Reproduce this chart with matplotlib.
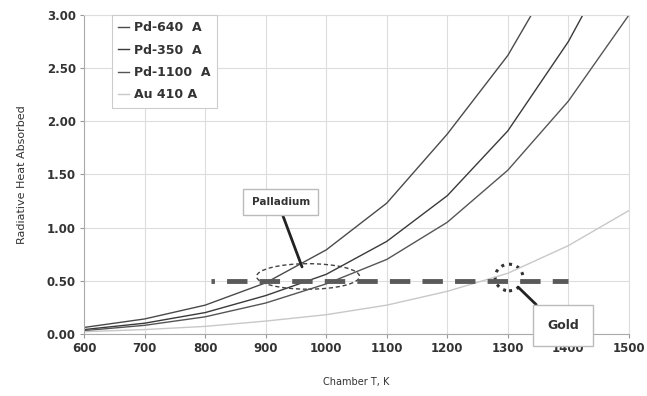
import matplotlib.pyplot as plt
from matplotlib.patches import Ellipse

# chamber temperature, K
temps = [600, 700, 800, 900, 1000, 1100, 1200, 1300, 1400, 1500]

# radiative heat absorbed
pd640 = [0.06, 0.14, 0.27, 0.48, 0.79, 1.23, 1.88, 2.62, 3.60, 4.80]
pd350 = [0.04, 0.10, 0.20, 0.36, 0.56, 0.87, 1.30, 1.91, 2.75, 3.80]
pd1100 = [0.03, 0.08, 0.16, 0.29, 0.47, 0.70, 1.05, 1.54, 2.19, 3.00]
au410 = [0.02, 0.04, 0.07, 0.12, 0.18, 0.27, 0.40, 0.57, 0.83, 1.16]
labels = ['Pd-640  A', 'Pd-350  A', 'Pd-1100  A', 'Au 410 A']

ref_x = [810, 1400]
ref_y = [0.5, 0.5]

plt.rcParams['font.family'] = 'DejaVu Sans'
plt.rcParams['font.weight'] = 'bold'

fig = plt.figure(figsize=(6.47, 3.96), dpi=100)
ax = fig.add_axes([0.130, 0.157, 0.842, 0.805])

ax.plot(temps, pd640, color='#4a4a4a', lw=1.0, label=labels[0])
ax.plot(temps, pd350, color='#3a3a3a', lw=1.0, label=labels[1])
ax.plot(temps, pd1100, color='#555555', lw=1.0, label=labels[2])
ax.plot(temps, au410, color='#c8c8c8', lw=1.0, label=labels[3])

ax.plot(ref_x, ref_y, color='#5a5a5a', lw=3.5,
        linestyle=(3.5, (4.2, 2.5)), solid_capstyle='butt')

# circles around the crossing regions
ax.add_patch(Ellipse((970, 0.54), 170, 0.24, fill=False, ec='#444444',
                     lw=1.0, ls=(0, (3, 2))))
ax.add_patch(Ellipse((1302, 0.53), 46, 0.25, fill=False, ec='#333333',
                     lw=2.2, ls=(0, (1, 1.6))))

ax.annotate('Palladium', xy=(960, 0.63), xytext=(925, 1.24),
            ha='center', va='center', fontsize=7.5, color='#333333',
            bbox=dict(boxstyle='square,pad=0.8', fc='white', ec='#bbbbbb', lw=1.0),
            arrowprops=dict(arrowstyle='-', color='#222222', lw=2.0,
                            relpos=(0.48, 0.0), shrinkA=0, shrinkB=0))
ax.annotate('Gold', xy=(1317, 0.44), xytext=(1391, 0.08),
            ha='center', va='center', fontsize=9, color='#333333',
            bbox=dict(boxstyle='square,pad=1.1', fc='white', ec='#bbbbbb', lw=1.0),
            arrowprops=dict(arrowstyle='-', color='#222222', lw=2.0,
                            relpos=(0.12, 1.0), shrinkA=0, shrinkB=0),
            annotation_clip=False)

ax.set_xlim(600, 1500)
ax.set_ylim(0, 3.0)
ax.set_xticks(range(600, 1501, 100))
ax.set_yticks([0, 0.5, 1.0, 1.5, 2.0, 2.5, 3.0])
ax.set_yticklabels(['0.00', '0.50', '1.00', '1.50', '2.00', '2.50', '3.00'])
ax.tick_params(labelsize=8.5, colors='#999999', labelcolor='#333333',
               length=3, width=0.8, pad=3)
ax.grid(True, color='#dddddd', lw=0.8)
ax.set_axisbelow(True)
for side in ['top', 'right']:
    ax.spines[side].set_color('#dddddd')
for side in ['left', 'bottom']:
    ax.spines[side].set_color('#aaaaaa')

ax.set_xlabel('Chamber T, K', fontsize=7, color='#333333', labelpad=16)
ax.set_ylabel('Radiative Heat Absorbed', fontsize=8, color='#333333', labelpad=14)

leg = ax.legend(loc='upper left', bbox_to_anchor=(0.051, 1.0), borderaxespad=0,
                fontsize=9, handlelength=0.9, handletextpad=0.4, labelspacing=0.75,
                borderpad=0.5, fancybox=False, framealpha=1)
leg.get_frame().set_edgecolor('#cccccc')
leg.get_frame().set_linewidth(0.8)
for t in leg.get_texts():
    t.set_color('#333333')

fig.savefig('out.png', dpi=100)
